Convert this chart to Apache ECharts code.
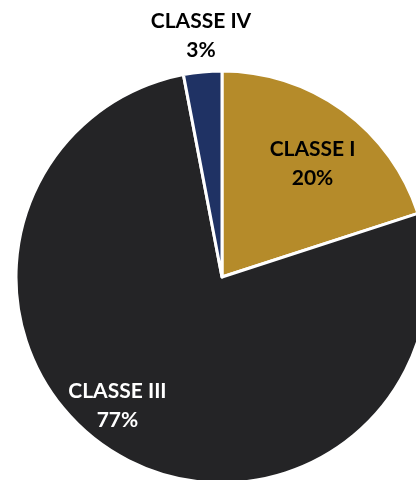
<!DOCTYPE html>
<html>
<head>
<meta charset="utf-8">
<script src="https://cdn.jsdelivr.net/npm/echarts@6/dist/echarts.min.js"></script>
<style>
  html, body { margin: 0; padding: 0; background: #fff; }
  #chart { width: 416px; height: 480px; }
</style>
</head>
<body>
<div id="chart"></div>
<script>
// données
const categories = ['CLASSE I', 'CLASSE III', 'CLASSE IV'];
const percents = [20, 77, 3];
const colors = ['#B58B2A', '#242426', '#1F3264'];
const labelColors = ['#000000', '#ffffff', '#000000'];

const chart = echarts.init(document.getElementById('chart'));
const R = 206;
const center = [222, 277];

const pieData = categories.map((name, i) => ({
  name: name,
  value: percents[i],
  itemStyle: { color: colors[i] }
}));

// série invisible, seulement pour placer les étiquettes
const labelData = categories.map((name, i) => ({
  name: name,
  value: percents[i],
  label: { color: labelColors[i] }
}));

chart.setOption({
  animation: false,
  series: [
    {
      type: 'pie',
      center: center,
      radius: [0, R],
      startAngle: 90,
      clockwise: true,
      silent: true,
      itemStyle: { borderColor: '#ffffff', borderWidth: 3 },
      label: { show: false },
      labelLine: { show: false },
      data: pieData
    },
    {
      type: 'pie',
      center: center,
      radius: [R * 0.45, R],
      startAngle: 90,
      clockwise: true,
      silent: true,
      itemStyle: { color: 'transparent', borderWidth: 0 },
      label: {
        show: true,
        position: 'inside',
        formatter: p => p.name + '\n' + p.value + '%',
        fontFamily: 'Lato',
        fontWeight: 'bold',
        fontSize: 21,
        lineHeight: 29
      },
      labelLine: { show: false },
      labelLayout: function (params) {
        if (params.dataIndex === 1) {
          return { dx: -27, dy: -2 };
        }
        if (params.dataIndex === 2) {
          return { x: 201, y: 36, align: 'center', verticalAlign: 'middle' };
        }
        return { dx: 1, dy: 10 };
      },
      data: labelData
    }
  ]
});
</script>
</body>
</html>
